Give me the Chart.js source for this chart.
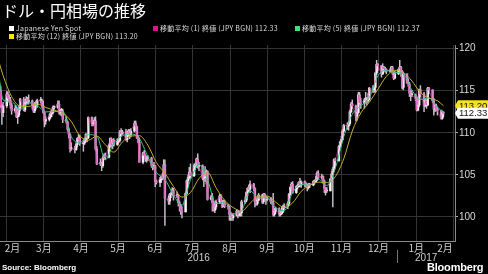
<!DOCTYPE html>
<html><head><meta charset="utf-8">
<script src="https://cdn.jsdelivr.net/npm/chart.js@4.4.1/dist/chart.umd.min.js"></script>
<style>
html,body{margin:0;padding:0;background:#000;}
#wrap{position:relative;width:488px;height:274px;background:#000;overflow:hidden;font-family:"Noto Sans CJK JP","Liberation Sans",sans-serif;}
#c{position:absolute;left:0;top:0;}
.title{position:absolute;left:2px;top:1px;font-size:16px;line-height:18px;color:#fff;white-space:nowrap;}
.lg{position:absolute;font-family:"Noto Sans CJK JP",sans-serif;font-size:7px;line-height:8px;color:#ddd;white-space:nowrap;letter-spacing:0.25px;}
.sq{display:inline-block;width:5px;height:5px;margin-right:2px;position:relative;top:0px;}
.src{position:absolute;left:2px;top:263px;font-family:"Liberation Sans",sans-serif;font-weight:bold;font-size:8px;line-height:10px;color:#fff;}
.logo{position:absolute;left:427px;top:261px;font-family:"Liberation Sans",sans-serif;font-weight:bold;font-size:11px;line-height:13px;color:#fff;letter-spacing:-0.2px;}
.logo i{display:inline-block;width:5px;height:6px;background:#ddd;margin-left:3px;}
</style></head>
<body><div id="wrap">
<canvas id="c" width="488" height="274"></canvas>
<div class="title">ドル・円相場の推移</div>
<div class="lg" style="left:9px;top:23.5px"><span class="sq" style="background:#fff"></span>Japanese Yen Spot</div>
<div class="lg" style="left:153px;top:23.5px"><span class="sq" style="background:#e2138a"></span>移動平均 (1) 終値 (JPY BGN) 112.33</div>
<div class="lg" style="left:295px;top:23.5px"><span class="sq" style="background:#40e07c"></span>移動平均 (5) 終値 (JPY BGN) 112.37</div>
<div class="lg" style="left:9px;top:31.5px"><span class="sq" style="background:#f4e600"></span>移動平均 (12) 終値 (JPY BGN) 113.20</div>
<div class="src">Source: Bloomberg</div>
<div class="logo">Bloomberg<i></i></div>
</div>
<script>
// ---- data (day index counted from 2016-02-01) ----
const firstDay = 8; // 2016-02-09, candles on consecutive weekdays
const opens = [
115.6,115.0,113.3,112.4,
113.2,114.6,114.1,113.9,113.3, 112.6,112.9,111.9,112.1,112.9, 114.0,112.7,113.6,114.0,113.7,
113.8,113.3,112.6,113.3,113.3, 113.8,113.8,113.2,112.4,111.4, 111.6,111.9,112.3,112.4,113.0,
113.0,113.4,112.4,112.6,112.6, 111.6,111.3,110.4,109.8,108.1, 108.1,108.0,108.6,109.3,109.4,
108.7,108.8,109.1,109.8,109.4, 111.8,111.1,111.2,111.4,108.1, 106.3,106.4,106.1,107.0,107.3,
107.1,108.5,109.3,108.5,109.1, 108.6,109.0,109.1,110.1,109.9, 110.1,109.2,109.9,110.2,109.8,
110.2,111.1,110.7,109.4,108.9, 106.5,107.6,107.3,106.9,107.0, 107.0,106.1,105.9,106.1,104.2,
104.1,104.5,104.8,104.6,106.2, 102.2,101.9,102.7,102.8,103.2, 102.5,102.6,101.7,101.4,100.7,
100.6,102.8,104.3,104.7,105.3, 104.9,106.1,106.1,106.9,106.0, 106.1,104.6,104.7,105.3,105.4,
102.1,102.4,101.7,100.8,101.2, 101.8,102.5,101.9,101.3,101.8, 101.3,101.2,100.3,100.2,99.9,
100.2,100.7,100.2,100.5,100.5, 101.8,102.0,102.9,103.4,103.3, 103.9,103.4,101.8,101.6,102.0,
102.6,101.8,102.7,102.4,102.1, 102.3,101.8,101.7,100.3,100.7, 101.0,100.3,100.4,100.6,101.1,
101.3,101.6,102.7,103.5,103.9, 102.9,103.6,103.6,104.1,103.8, 104.2,103.9,103.8,103.5,103.9,
103.8,104.2,104.2,104.4,105.2, 104.7,104.8,104.3,103.4,103.1, 103.1,104.5,105.1,105.7,106.8,
106.7,108.4,108.9,109.2,110.2, 110.9,110.8,111.1,112.5,113.4, 113.2,112.0,112.4,114.5,113.6,
113.5,113.9,113.9,113.8,114.0, 115.3,115.1,115.4,117.1,118.1, 118.0,117.0,117.8,117.6,117.5,
117.3,117.4,117.8,117.1,116.5, 117.0,117.5,117.8,117.3,115.4, 117.0,115.9,115.8,114.7,114.5,
114.5,114.1,112.7,113.3,115.1, 114.6,113.2,113.8,113.3,115.3, 115.1,113.8,112.8,113.2,112.8,
112.6,111.7,112.4];
const highs = [
115.7,115.5,113.4,113.6,
114.9,114.9,114.5,114.2,113.5, 113.3,113.2,112.4,113.2,114.1, 114.2,113.9,114.3,114.2,114.5,
113.9,113.5,113.6,113.8,114.0, 114.2,114.0,113.8,112.6,111.9, 112.2,112.6,112.7,113.2,113.2,
113.8,113.8,112.8,112.9,112.8, 111.9,111.4,110.6,109.9,108.8, 108.4,108.8,109.4,109.8,109.7,
109.0,109.3,109.9,109.9,111.9, 111.9,111.5,111.8,111.9,108.4, 106.9,106.5,107.2,107.5,107.6,
108.7,109.4,109.4,109.2,109.3, 109.3,109.4,110.3,110.5,110.3, 110.4,110.2,110.4,110.4,110.5,
111.4,111.4,110.8,109.6,109.4, 107.7,107.9,107.4,107.2,107.3, 107.1,106.2,106.5,106.1,104.4,
104.7,104.9,105.2,106.8,106.8, 102.5,102.8,103.0,103.5,103.4, 103.0,102.7,101.9,101.5,101.2,
103.0,104.4,105.0,105.9,106.3, 106.3,106.4,107.0,107.5,106.5, 106.2,105.0,106.0,105.6,105.5,
102.6,102.8,101.9,101.6,102.0, 102.7,102.7,102.0,102.0,102.0, 101.5,101.3,100.5,100.4,100.4,
100.9,100.8,100.6,100.7,102.0, 102.4,103.0,103.5,103.8,104.3, 104.0,103.5,102.2,102.3,102.8,
102.7,102.8,102.8,102.5,102.4, 102.3,101.9,102.8,101.0,101.2, 101.1,100.7,101.2,101.4,101.6,
101.8,102.8,103.6,104.1,104.2, 103.7,103.9,104.2,104.6,104.3, 104.3,104.1,103.9,104.0,104.0,
104.3,104.4,104.8,105.4,105.5, 105.1,104.9,104.4,103.5,103.5, 104.6,105.4,105.9,106.9,107.0,
108.5,109.0,109.6,110.4,111.0, 111.2,111.4,112.7,113.6,113.9, 113.3,112.9,114.8,114.8,114.1,
114.1,114.8,114.2,114.7,115.4, 115.6,115.6,117.2,118.6,118.2, 118.0,118.2,117.9,117.8,117.6,
117.6,117.9,117.9,117.2,117.3, 117.6,118.6,117.9,117.4,117.2, 117.0,116.4,116.0,115.0,115.0,
114.6,114.3,113.5,115.2,115.6, 114.8,114.1,113.9,115.4,115.4, 115.1,114.1,113.4,113.4,113.0,
112.7,112.6,112.5];
const lows = [
114.2,113.0,111.0,111.9,
113.0,113.8,113.6,112.9,112.2, 112.4,111.8,111.1,111.9,112.6, 112.6,112.5,113.4,113.4,113.4,
112.8,112.4,112.4,112.8,113.0, 113.5,113.0,112.3,110.7,111.0, 111.4,111.7,111.9,112.2,112.8,
112.9,112.2,112.1,112.0,111.2, 111.1,110.2,109.4,107.7,107.9, 107.6,107.9,108.3,109.0,108.5,
107.8,108.6,108.9,108.9,109.3, 110.8,110.8,111.0,107.9,106.2, 106.1,105.5,105.9,106.8,106.8,
107.0,108.3,108.3,108.1,108.4, 108.5,108.8,108.9,109.6,109.8, 109.1,108.9,109.6,109.3,109.5,
110.1,110.4,109.3,108.8,106.5, 106.3,107.1,106.6,106.5,106.7, 105.9,105.6,105.7,103.6,103.9,
103.6,104.1,104.4,104.5,99.0, 101.5,101.5,102.3,102.6,102.0, 102.3,101.3,100.7,100.3,99.9,
100.6,102.7,103.6,104.5,104.6, 104.8,105.6,105.9,105.8,105.5, 104.4,103.6,104.2,103.9,102.0,
102.0,100.7,100.7,100.5,100.9, 101.6,101.6,101.1,101.2,101.1, 100.9,99.6,99.6,99.6,99.6,
100.1,99.9,100.1,100.1,100.1, 101.6,101.8,102.5,103.0,102.9, 103.1,101.2,101.4,101.4,101.9,
101.6,101.6,102.1,101.5,101.9, 101.6,101.5,100.1,100.1,100.4, 100.1,100.1,100.3,100.5,100.9,
101.0,101.4,102.6,103.2,102.8, 102.8,103.3,103.5,103.6,103.5, 103.6,103.5,103.1,103.3,103.5,
103.7,103.9,104.1,104.3,104.5, 104.5,104.0,102.9,102.6,102.9, 103.1,104.3,101.2,105.4,105.9,
106.6,108.2,108.7,109.1,110.1, 110.4,110.3,110.9,112.4,112.9, 111.4,111.5,112.3,113.4,112.9,
112.9,113.8,113.3,113.6,113.9, 114.8,114.8,114.8,116.9,117.4, 116.6,116.9,117.3,117.2,117.0,
117.2,117.3,116.9,116.3,116.4, 116.9,117.3,116.7,115.2,115.1, 115.9,115.5,114.3,113.8,114.3,
113.8,112.6,112.6,113.1,114.3, 112.5,113.1,112.9,113.2,114.6, 113.6,112.1,112.5,112.6,112.1,
111.6,111.6,111.9];
const closes = [
115.0,113.3,112.4,113.2,
114.6,114.1,113.9,113.3,112.6, 112.9,111.9,112.1,112.9,114.0, 112.7,113.6,114.0,113.7,113.8,
113.3,112.6,113.3,113.3,113.8, 113.8,113.2,112.4,111.4,111.6, 111.9,112.3,112.4,113.0,113.0,
113.4,112.4,112.6,112.6,111.6, 111.3,110.4,109.8,108.1,108.1, 108.0,108.6,109.3,109.4,108.7,
108.8,109.1,109.8,109.4,111.8, 111.1,111.2,111.4,108.1,106.3, 106.4,106.1,107.0,107.3,107.1,
108.5,109.3,108.5,109.1,108.6, 109.0,109.1,110.1,109.9,110.1, 109.2,109.9,110.2,109.8,110.2,
111.1,110.7,109.4,108.9,106.5, 107.6,107.3,106.9,107.0,107.0, 106.1,105.9,106.1,104.2,104.1,
104.5,104.8,104.6,106.2,102.2, 101.9,102.7,102.8,103.2,102.5, 102.6,101.7,101.4,100.7,100.6,
102.8,104.3,104.7,105.3,104.9, 106.1,106.1,106.9,106.0,106.1, 104.6,104.7,105.3,105.4,102.1,
102.4,101.7,100.8,101.2,101.8, 102.5,101.9,101.3,101.8,101.3, 101.2,100.3,100.2,99.9,100.2,
100.7,100.2,100.5,100.5,101.8, 102.0,102.9,103.4,103.3,103.9, 103.4,101.8,101.6,102.0,102.6,
101.8,102.7,102.4,102.1,102.3, 101.8,101.7,100.3,100.7,101.0, 100.3,100.4,100.6,101.1,101.3,
101.6,102.7,103.5,103.9,102.9, 103.6,103.6,104.1,103.8,104.2, 103.9,103.8,103.5,103.9,103.8,
104.2,104.2,104.4,105.2,104.7, 104.8,104.3,103.4,103.1,103.1, 104.5,105.1,105.7,106.8,106.7,
108.4,108.9,109.2,110.2,110.9, 110.8,111.1,112.5,113.4,113.2, 112.0,112.4,114.5,113.6,113.5,
113.9,113.9,113.8,114.0,115.3, 115.1,115.4,117.1,118.1,118.0, 117.0,117.8,117.6,117.5,117.3,
117.4,117.8,117.1,116.5,117.0, 117.5,117.8,117.3,115.4,117.0, 115.9,115.8,114.7,114.5,114.5,
114.1,112.7,113.3,115.1,114.6, 113.2,113.8,113.3,115.3,115.1, 113.8,112.8,113.2,112.8,112.6,
111.7,112.4,112.33];
// moving averages read at the first candle, every Friday, and the last candle
const ma5 = [116.3,
113.9,113.7,112.76,113.56,113.26,112.48,112.52,112.52,109.54,108.8,109.78,109.62,106.78,108.8,109.64,109.86,109.32,107.16,105.28,104.46,
102.62,101.4,104.4,106.24,104.42,101.58,101.76,100.36,100.74,103.1,102.28,102.26,101.1,100.74,102.92,103.86,103.78,104.54,103.74,105.76,
109.52,112.2,113.2,114.18,116.74,117.44,117.16,117.0,115.08,113.96,114.14,113.04,
112.37];
const ma12 = [118.2,
116.8,114.3,113.16,113.13,113.42,113.01,112.67,112.36,111.35,109.65,109.11,109.6,108.59,107.7,108.9,109.61,109.65,108.52,106.46,105.21,
103.63,102.36,102.9,104.57,105.3,103.49,102.0,101.13,100.71,101.62,102.44,102.49,101.78,101.12,101.68,103.04,103.75,104.14,104.1,104.78,
106.92,110.2,112.35,113.63,115.16,116.69,117.42,117.13,116.15,114.78,114.12,113.8,
113.2];
const monthStarts = [0,29,60,90,121,151,182,213,243,274,304,335,366,394];
const monthNames = ['2月','3月','4月','5月','6月','7月','8月','9月','10月','11月','12月','1月','2月'];
const years = [{label:'2016', from:-31, to:335},{label:'2017', from:335, to:700}];
const yTicks = [100,105,110,115,120];
const tags = [{v:113.20, bg:'#f3e31c'},{v:112.33, bg:'#ffffff'}];
const xMin = 8.45, xMax = 382.43, yMin = 97.15, yMax = 120.42;

// ---- build ----
const days = [];
for (let d = firstDay; days.length < closes.length; d++) { if (d % 7 < 5) days.push(d); }
const sampleIdx = [0];
days.forEach((d,i)=>{ if (d % 7 === 4) sampleIdx.push(i); });
sampleIdx.push(days.length-1);

const wicks = days.map((d,i)=>({x:d, y:[lows[i], highs[i]]}));
const bodies = days.map((d,i)=>({x:d, y:[opens[i], closes[i]]}));
const bodyColors = days.map((d,i)=> closes[i] >= opens[i] ? '#f4f4f4' : '#d48ccb');
const ma1Pts = days.map((d,i)=>({x:d, y:closes[i]}));
const ma5Pts = sampleIdx.map((k,j)=>({x:days[k], y:ma5[j]}));
const ma12Pts = sampleIdx.map((k,j)=>({x:days[k], y:ma12[j]}));

const labelPos = monthNames.map((n,i)=>{
  const a = Math.max(monthStarts[i], xMin), b = Math.min(monthStarts[i+1], xMax);
  return (a+b)/2;
});

Chart.defaults.font.family = '"Noto Sans CJK JP","Liberation Sans",sans-serif';

const extras = {
  id:'extras',
  afterDraw(chart){
    const {ctx, chartArea, scales:{x, y}} = chart;
    ctx.save();
    ctx.font = '10px "Liberation Sans", sans-serif';
    ctx.fillStyle = '#cfcfcf'; ctx.textAlign = 'center'; ctx.textBaseline = 'middle';
    years.forEach(yr=>{
      const a = Math.max(yr.from, xMin), b = Math.min(yr.to, xMax);
      ctx.fillText(yr.label, x.getPixelForValue((a+b)/2), chartArea.bottom + 17);
    });
    const px = Math.round(x.getPixelForValue(years[1].from)) + 0.5;
    ctx.strokeStyle = '#777'; ctx.lineWidth = 1;
    ctx.beginPath(); ctx.moveTo(px, chartArea.bottom + 9); ctx.lineTo(px, chartArea.bottom + 22); ctx.stroke();
    // value tags
    ctx.font = '9.5px "Liberation Sans", sans-serif';
    ctx.textAlign = 'left';
    tags.forEach(t=>{
      const py = y.getPixelForValue(t.v);
      const l = chartArea.right;
      ctx.fillStyle = t.bg;
      ctx.beginPath();
      ctx.moveTo(l, py); ctx.lineTo(l+3, py-5.5); ctx.lineTo(488, py-5.5); ctx.lineTo(488, py+5.5); ctx.lineTo(l+3, py+5.5);
      ctx.closePath(); ctx.fill();
      ctx.fillStyle = '#111';
      ctx.fillText(t.v.toFixed(2), l+4, py+0.5);
    });
    ctx.restore();
  }
};

new Chart(document.getElementById('c'), {
  data: {
    datasets: [
      {type:'line', label:'移動平均 (12)', data:ma12Pts, borderColor:'#c2af2c', borderWidth:1, pointRadius:0, cubicInterpolationMode:'monotone', xAxisID:'x', yAxisID:'y'},
      {type:'line', label:'移動平均 (5)', data:ma5Pts, borderColor:'#3cc481', borderWidth:1, pointRadius:0, cubicInterpolationMode:'monotone', xAxisID:'x', yAxisID:'y'},
      {type:'line', label:'移動平均 (1)', data:ma1Pts, borderColor:'rgba(226,60,170,0.55)', borderWidth:1, pointRadius:0, xAxisID:'x', yAxisID:'y'},
      {type:'bar', label:'Japanese Yen Spot', data:bodies, backgroundColor:bodyColors, barThickness:1.8, minBarLength:1, grouped:false, borderWidth:0, borderSkipped:false, xAxisID:'x', yAxisID:'y'},
      {type:'bar', label:'wick', data:wicks, backgroundColor:'#c9c0cc', barThickness:0.8, grouped:false, borderWidth:0, borderSkipped:false, xAxisID:'x', yAxisID:'y'}
    ]
  },
  options: {
    responsive:false, animation:false, devicePixelRatio:1,
    layout:{padding:{top:45, left:0, right:0, bottom:0}},
    plugins:{legend:{display:false}, tooltip:{enabled:false}},
    scales:{
      x:{type:'linear', position:'bottom', min:xMin, max:xMax, offset:false,
        afterBuildTicks:s=>{ s.ticks = monthStarts.filter(v=>v>xMin && v<xMax).map(v=>({value:v})); },
        grid:{color:'#343434', lineWidth:1, drawTicks:false},
        border:{display:true, color:'#8a8a8a'},
        ticks:{display:false},
        afterFit:s=>{ s.height = 0; }
      },
      xl:{type:'linear', position:'bottom', min:xMin, max:xMax, offset:false,
        afterBuildTicks:s=>{ s.ticks = labelPos.map(v=>({value:v})); },
        grid:{display:false, drawTicks:false},
        border:{display:false},
        ticks:{callback:(v,i)=>monthNames[i], color:'#cfcfcf', font:{size:10}, padding:1, maxRotation:0, autoSkip:false},
        afterFit:s=>{ s.height = 33; }
      },
      y:{type:'linear', position:'right', min:yMin, max:yMax,
        afterBuildTicks:s=>{ s.ticks = yTicks.map(v=>({value:v})); },
        grid:{color:'#343434', lineWidth:1, drawTicks:true, tickLength:3, tickColor:'#aaa'},
        border:{display:true, color:'#8a8a8a'},
        ticks:{color:'#d8d8d8', font:{size:10, family:'"Liberation Sans", sans-serif'}, padding:1},
        afterFit:s=>{ s.width = 33; }
      }
    }
  },
  plugins:[extras]
});
</script>
</body></html>
